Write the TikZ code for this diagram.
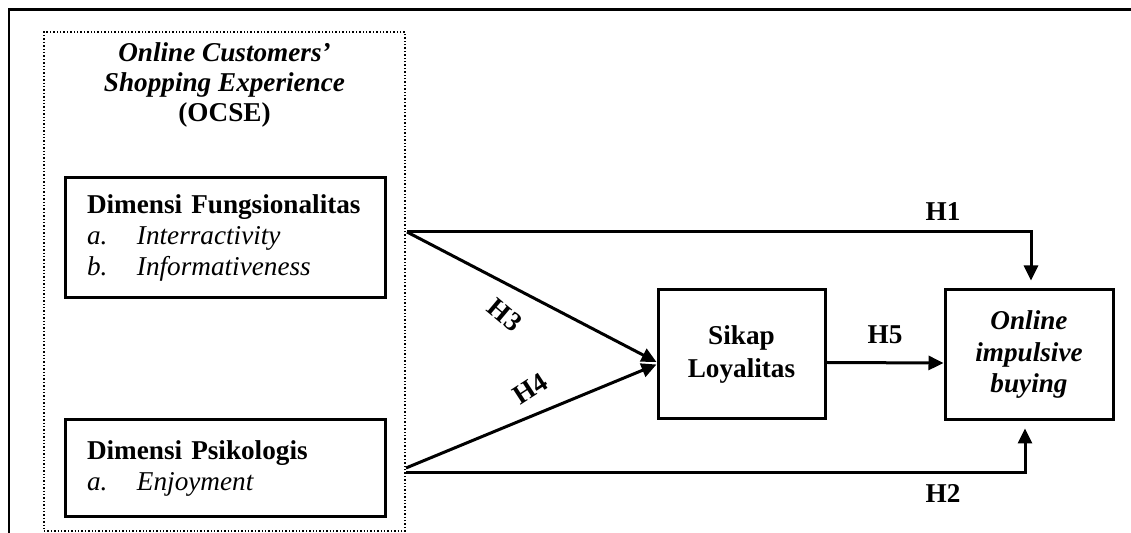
\documentclass[tikz,border=0pt]{standalone}
\usepackage{fontspec}
\setmainfont{Liberation Serif}
\usetikzlibrary{arrows.meta}
\hyphenpenalty=10000

\tikzset{
	hyptext/.style={font=\fontsize{13.6}{15}\selectfont\bfseries},
	dimbox/.style={draw, line width=1.5pt, align=left, text width=138pt, inner xsep=11pt, inner ysep=0pt, minimum width=160pt, font=\fontsize{13.6}{15.5}\selectfont},
	varbox/.style={draw, line width=1.5pt, align=center, inner sep=0pt, font=\fontsize{13.6}{15.75}\selectfont\bfseries},
	hyparrow/.style={->, line width=1.5pt},
}
\newcommand{\dimitem}[2]{\makebox[25pt][l]{\itshape #1}\textit{#2}}

\begin{document}
\begin{tikzpicture}[x=0.5pt, y=-0.5pt, >={Triangle[length=7.5pt,width=7pt]}]
	\useasboundingbox (0,0) rectangle (1131,533);
	
	%outer frame
	\draw[line width=1.5pt] (8,10) -- (1131,10);
	\draw[line width=1pt] (8.5,10) -- (8.5,533);
	
	%OCSE group
	\node[draw, densely dotted, line width=0.7pt, minimum width=180.5pt, minimum height=249.5pt, inner sep=0pt] (ocse) at (224.5,281.5) {};
	\node[hyptext, align=center] (title) at (224.5,85) {\textit{Online Customers’}\\\textit{Shopping Experience}\\(OCSE)};
	
	%dimension boxes
	\node[dimbox, minimum height=60pt] (fung) at (225,238) {\textbf{Dimensi Fungsionalitas}\\\dimitem{a.}{Interractivity}\\\dimitem{b.}{Informativeness}};
	\node[dimbox, minimum height=48.5pt] (psik) at (225,468.5) {\textbf{Dimensi Psikologis}\\\dimitem{a.}{Enjoyment}};
	
	%mediator and outcome
	\node[varbox, minimum width=83.5pt, minimum height=64.5pt, font=\fontsize{13.6}{16.5}\selectfont\bfseries] (sikap) at (741.5,354.5) {Sikap\\Loyalitas};
	\node[varbox, minimum width=84pt, minimum height=65pt] (oib) at (1029,355) {\textit{Online}\\\textit{impulsive}\\\textit{buying}};
	
	%arrow starts on the group edge
	\coordinate (fout) at (407,232);
	\coordinate (pout4) at (406,468);
	\coordinate (pout2) at (406,473);
	
	%arrows
	\draw[hyparrow, shorten >=4pt] (fout) -| ([xshift=1pt]oib.north);			%H1
	\draw[hyparrow, shorten >=3.5pt] (pout2) -| ([xshift=-2pt]oib.south);		%H2
	\draw[hyparrow] (fout) -- ([yshift=-3.75pt]sikap.west);					%H3
	\draw[hyparrow] (pout4) -- ([yshift=-5pt]sikap.west);						%H4
	\draw[hyparrow] ([yshift=-4pt]sikap.east) -- ([yshift=-4pt]oib.west);		%H5
	
	%labels
	\node[hyptext] (lh1) at (943,212) {H1};
	\node[hyptext] (lh2) at (943,493) {H2};
	\node[hyptext, rotate=-40] (lh3) at (505,315) {H3};
	\node[hyptext, rotate=33] (lh4) at (530,389) {H4};
	\node[hyptext] (lh5) at (885,335) {H5};
\end{tikzpicture}
\end{document}
